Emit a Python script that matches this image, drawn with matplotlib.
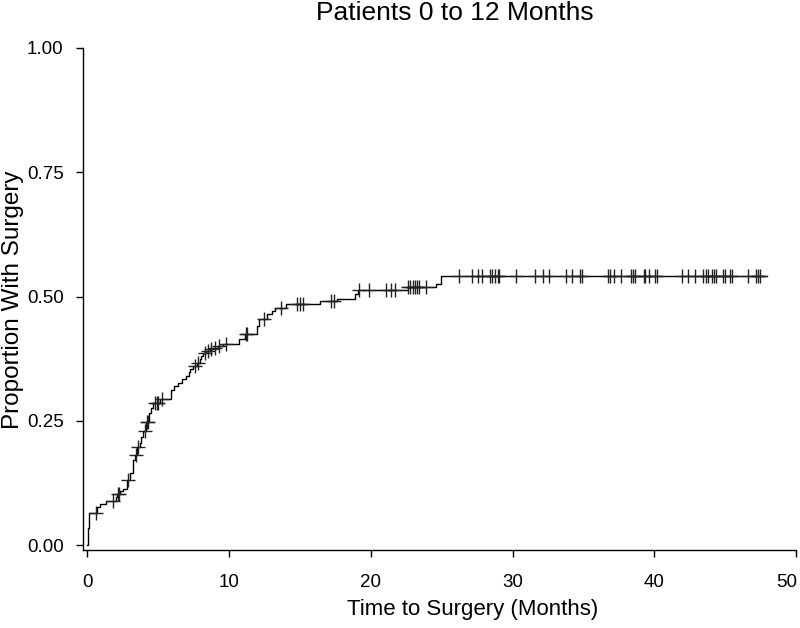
import numpy as np
import matplotlib
matplotlib.use("Agg")
import matplotlib.pyplot as plt
from matplotlib.transforms import ScaledTranslation

plt.rcParams['font.family'] = ['Liberation Sans', 'DejaVu Sans']

# Kaplan-Meier style cumulative incidence: event times and cumulative proportion after each step
event_times = [0.03, 0.10, 0.70, 0.90, 1.30, 2.00, 2.12, 2.28, 2.55, 2.80, 3.00, 3.20, 3.35, 3.52,
               3.70, 3.82, 3.95, 4.15, 4.35, 4.50, 4.65, 5.15, 5.90, 6.10, 6.40, 6.65, 6.95, 7.15,
               7.22, 7.45, 7.72, 7.92, 8.05, 8.20, 8.40, 8.65, 8.90, 9.20, 9.60, 10.70, 11.10,
               12.00, 12.15, 12.70, 13.00, 13.25, 14.05, 16.40, 17.60, 18.90, 19.10, 22.60,
               24.60, 24.95]
cum_prop = [0.034, 0.064, 0.076, 0.082, 0.088, 0.096, 0.102, 0.108, 0.112, 0.131, 0.145, 0.171,
            0.181, 0.197, 0.205, 0.217, 0.229, 0.247, 0.265, 0.275, 0.285, 0.293, 0.311, 0.319,
            0.327, 0.335, 0.341, 0.349, 0.355, 0.361, 0.367, 0.374, 0.380, 0.386, 0.390, 0.394,
            0.396, 0.400, 0.404, 0.414, 0.424, 0.440, 0.454, 0.464, 0.470, 0.476, 0.484, 0.490,
            0.496, 0.506, 0.514, 0.520, 0.526, 0.541]
end_time = 47.92

# censored observations (times)
censor_times = [0.62, 1.80, 2.16, 2.25, 2.87, 3.45, 3.58, 4.06, 4.22, 4.30, 4.76, 4.95, 5.00,
                5.24, 7.60, 7.80, 8.30, 8.50, 8.75, 9.00, 9.30, 9.80, 11.20, 11.25, 12.50,
                13.70, 14.80, 15.00, 15.20, 17.20, 17.40, 19.20, 19.90, 21.10, 21.40, 21.70,
                22.65, 22.80, 22.95, 23.10, 23.25, 23.40, 23.90, 26.20, 27.16, 27.59, 27.83,
                28.39, 28.57, 28.74, 28.99, 29.04, 30.22, 31.58, 32.14, 32.61, 33.74, 34.20,
                34.79, 34.91, 36.73, 36.90, 37.14, 37.68, 38.38, 38.47, 38.61, 39.25, 39.37,
                39.65, 40.07, 40.18, 41.99, 42.41, 42.89, 43.47, 43.63, 43.82, 44.10, 44.24,
                44.34, 44.88, 45.00, 45.35, 45.51, 46.64, 47.15, 47.34, 47.46]

x_ticks = [0, 10, 20, 30, 40, 50]
y_ticks = [0.00, 0.25, 0.50, 0.75, 1.00]
y_tick_labels = ["0.00", "0.25", "0.50", "0.75", "1.00"]

title = "Patients 0 to 12 Months"
x_label = "Time to Surgery (Months)"
y_label = "Proportion With Surgery"

fig = plt.figure(figsize=(8.0, 6.28), dpi=100)
ax = fig.add_axes([83 / 800, 1 - 550 / 628, (796 - 83) / 800, (550 - 48) / 628])

st = np.concatenate([[0.0], event_times, [end_time]])
sy = np.concatenate([[0.0], cum_prop, [cum_prop[-1]]])
ax.step(st, sy, where='post', color='black', lw=1.0)

ct = np.array(censor_times)
idx = np.searchsorted(np.array(event_times), ct, side='right') - 1
cy = np.where(idx >= 0, np.array(cum_prop)[np.clip(idx, 0, None)], 0.0)
ax.plot(ct, cy, linestyle='none', marker='+', markersize=10, markeredgewidth=1.0,
        color='#222222')

ax.set_xlim(-0.3, 50)
ax.set_ylim(-0.01, 1.0)
ax.set_xticks(x_ticks)
ax.set_yticks(y_ticks)
ax.set_yticklabels(y_tick_labels)
for s in ['top', 'right']:
    ax.spines[s].set_visible(False)
for s in ['left', 'bottom']:
    ax.spines[s].set_linewidth(1.0)
    ax.spines[s].set_color('black')
ax.tick_params(axis='both', direction='out', length=5, width=1.0, labelsize=13.5,
               colors='black')
ax.tick_params(axis='x', pad=12)
ax.tick_params(axis='y', pad=9)

# keep the last x tick label inside the canvas
last_lbl = ax.get_xticklabels()[-1]
last_lbl.set_transform(last_lbl.get_transform() + ScaledTranslation(-9 / 100, 0, fig.dpi_scale_trans))

fig.text(455 / 800, 1 - 13 / 628, title, ha='center', va='center', fontsize=19)
fig.text(473 / 800, 1 - 610 / 628, x_label, ha='center', va='center', fontsize=16)
fig.text(13 / 800, 1 - 300 / 628, y_label, ha='center', va='center', fontsize=17.5,
         rotation=90)

fig.savefig("out.png", dpi=100)
